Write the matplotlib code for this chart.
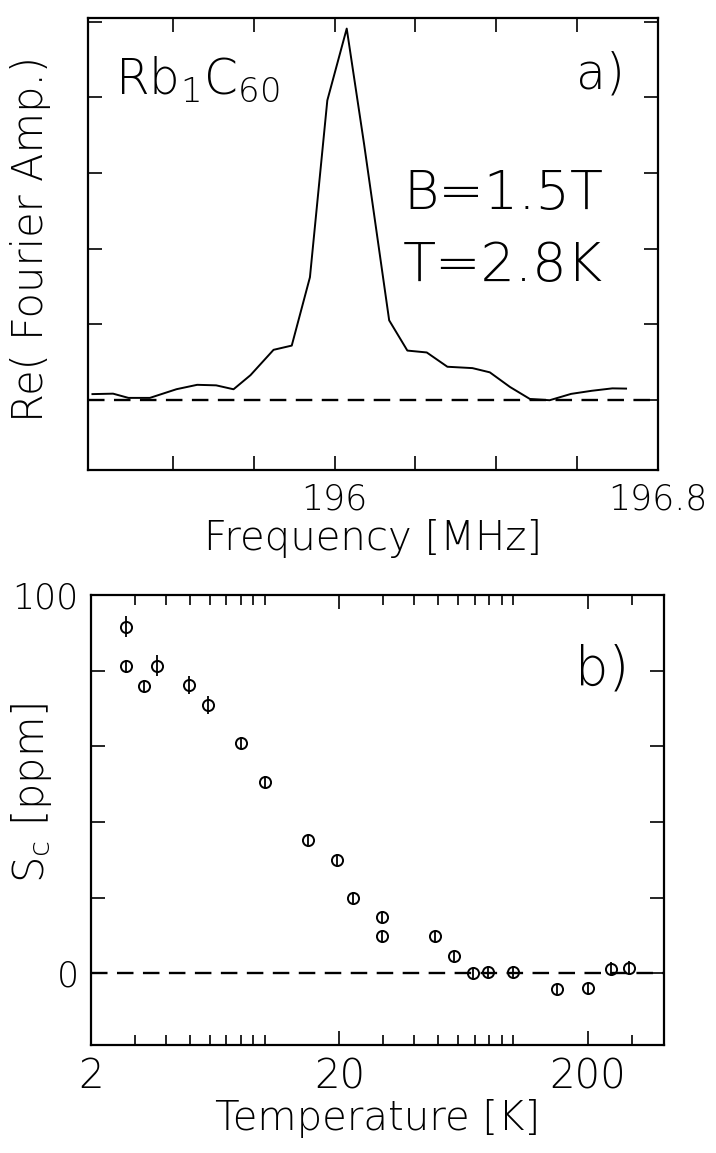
import matplotlib
matplotlib.use("Agg")
import matplotlib.pyplot as plt
from matplotlib.ticker import FixedLocator, FuncFormatter, NullFormatter

# ---------------- data: panel a ----------------
freq_mhz = [195.401, 195.452, 195.490, 195.543, 195.609, 195.660, 195.707,
            195.750, 195.792, 195.849, 195.894, 195.939, 195.982, 196.030,
            196.073, 196.135, 196.180, 196.228, 196.279, 196.341, 196.384,
            196.434, 196.483, 196.532, 196.585, 196.636, 196.687, 196.721]
re_amp = [0.074, 0.080, 0.024, 0.024, 0.139, 0.197, 0.190, 0.138, 0.325,
          0.660, 0.716, 1.62, 3.96, 4.91, 3.38, 1.05, 0.65, 0.625, 0.436,
          0.418, 0.362, 0.168, 0.010, -0.007, 0.077, 0.118, 0.150, 0.147]
freq_ticks = [195.6, 195.8, 196.0, 196.2, 196.4, 196.6, 196.8]
freq_ticklabels = {196.0: "196", 196.8: "196.8"}
amp_ticks = [0, 1, 2, 3, 4, 5]

# ---------------- data: panel b ----------------
temp_k = [2.77, 2.77, 3.27, 3.68, 4.98, 5.93, 8.0, 10.0, 15.0, 19.6, 22.6,
          29.6, 29.6, 48.5, 58.0, 69.0, 79.0, 100.0, 150.0, 200.0, 248.0, 294.0]
sc_ppm = [91.6, 81.1, 76.0, 81.3, 76.1, 71.0, 60.8, 50.5, 35.2, 30.0, 20.0,
          14.9, 9.7, 9.7, 4.5, 0.0, 0.3, 0.3, -4.2, -4.0, 1.2, 1.4]
sc_err = [2.8, 1.6, 1.6, 2.8, 2.4, 2.4, 1.6, 1.6, 1.4, 1.4, 1.4,
          1.4, 1.4, 1.4, 1.4, 1.4, 1.6, 1.6, 1.4, 1.4, 1.8, 1.8]
temp_major = [2, 20, 200]
temp_minor = [3, 4, 5, 6, 7, 8, 9, 10, 30, 40, 50, 60, 70, 80, 90, 100, 300]
sc_ticks = [0, 20, 40, 60, 80, 100]
sc_ticklabels = {0: "0", 100: "100"}

W, H = 716, 1153
plt.rcParams['font.family'] = ['DejaVu Sans']
plt.rcParams['font.weight'] = 'light'
plt.rcParams['axes.labelweight'] = 'light'
fig = plt.figure(figsize=(W / 100, H / 100), dpi=100)

LW_AX = 1.6
LAB = 29

def style_axes(ax, fs):
    for s in ax.spines.values():
        s.set_linewidth(LW_AX)
    ax.tick_params(which='both', direction='in', top=True, right=True,
                   width=1.2, labelsize=fs, pad=9)
    ax.tick_params(which='major', length=10)
    ax.tick_params(which='minor', length=7)

# ---------- panel a ----------
axa = fig.add_axes([88 / W, 1 - 470 / H, (658 - 88) / W, 452 / H])
axa.plot(freq_mhz, re_amp, color='k', lw=1.4)
axa.axhline(0, color='k', lw=1.7, dashes=(7, 4))
axa.set_xlim(195.39, 196.8)
axa.set_ylim(-0.93, 5.05)
axa.xaxis.set_major_locator(FixedLocator(freq_ticks))
axa.xaxis.set_major_formatter(FuncFormatter(
    lambda v, p: freq_ticklabels.get(round(v, 1), "")))
axa.yaxis.set_major_locator(FixedLocator(amp_ticks))
axa.yaxis.set_major_formatter(NullFormatter())
style_axes(axa, 25)
axa.set_xlabel("Frequency [MHz]", fontsize=LAB, labelpad=2)
axa.set_ylabel("Re( Fourier Amp.)", fontsize=30)
axa.yaxis.set_label_coords(-0.065, 0.51)
axa.text(0.047, 0.92, r"Rb$_1$C$_{60}$", transform=axa.transAxes,
         fontsize=35, ha='left', va='top')
axa.text(0.942, 0.875, "a)", transform=axa.transAxes, fontsize=35,
         ha='right', va='center')
axa.text(0.553, 0.609, "B=1.5T", transform=axa.transAxes, fontsize=39,
         ha='left', va='center')
axa.text(0.553, 0.451, "T=2.8K", transform=axa.transAxes, fontsize=39,
         ha='left', va='center')

# ---------- panel b ----------
axb = fig.add_axes([91 / W, 1 - 1045 / H, (664 - 91) / W, 450 / H])
axb.errorbar(temp_k, sc_ppm, yerr=sc_err, fmt='o', ms=8, mfc='none',
             mec='k', mew=1.4, ecolor='k', elinewidth=1.3, capsize=0)
axb.axhline(0, color='k', lw=1.7, dashes=(7, 4))
axb.set_xscale('log')
axb.set_xlim(2, 405)
axb.set_ylim(-19, 100)
axb.xaxis.set_major_locator(FixedLocator(temp_major))
axb.xaxis.set_major_formatter(FuncFormatter(lambda v, p: f"{v:g}"))
axb.xaxis.set_minor_locator(FixedLocator(temp_minor))
axb.xaxis.set_minor_formatter(NullFormatter())
axb.yaxis.set_major_locator(FixedLocator(sc_ticks))
axb.yaxis.set_major_formatter(FuncFormatter(
    lambda v, p: sc_ticklabels.get(int(round(v)), "")))
style_axes(axb, 25)
axb.tick_params(axis='x', which='major', labelsize=29)
axb.set_xlabel("Temperature [K]", fontsize=LAB, labelpad=2)
axb.set_ylabel(r"S$_\mathrm{c}$ [ppm]", fontsize=30)
axb.yaxis.set_label_coords(-0.065, 0.56)
axb.text(0.94, 0.834, "b)", transform=axb.transAxes, fontsize=38,
         ha='right', va='center')

fig.savefig("out.png", dpi=100)
